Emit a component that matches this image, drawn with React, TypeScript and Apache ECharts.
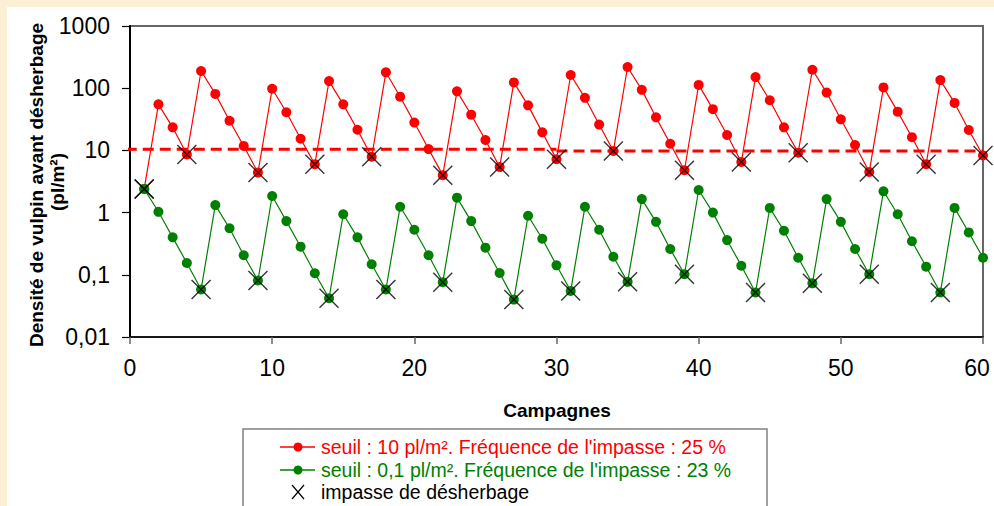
import React, { useEffect, useRef } from "react";
import * as echarts from "echarts";

// Campaign numbers are 1..60 (index + 1)
const redValues: number[] = [
  2.4, 55, 23.5, 8.6, 189, 81, 30, 11.8, 4.4, 98,
  41, 15.4, 6.0, 130, 55, 21.5, 7.9, 180, 73, 28,
  10.5, 4.0, 89, 37.5, 14.7, 5.4, 124, 53, 19.5, 7.2,
  163, 70, 26, 9.8, 219, 94, 34, 12.8, 4.8, 113,
  46, 17.7, 6.5, 151, 64, 23.5, 9.2, 198, 85, 31.6,
  12.2, 4.5, 103, 42, 16.3, 6.0, 135, 58, 21.3, 8.3,
];

const greenValues: number[] = [
  2.4, 1.03, 0.4, 0.155, 0.058, 1.32, 0.56, 0.206, 0.081, 1.85,
  0.73, 0.283, 0.106, 0.042, 0.94, 0.4, 0.148, 0.058, 1.24, 0.53,
  0.206, 0.076, 1.74, 0.73, 0.273, 0.107, 0.04, 0.89, 0.38, 0.142,
  0.055, 1.24, 0.53, 0.195, 0.077, 1.65, 0.71, 0.26, 0.102, 2.31,
  1.0, 0.362, 0.14, 0.052, 1.19, 0.51, 0.188, 0.073, 1.65, 0.71,
  0.26, 0.102, 2.2, 0.94, 0.346, 0.135, 0.052, 1.19, 0.48, 0.188,
];

// campaigns where weeding was skipped ("impasse")
const redImpasse: number[] = [1, 4, 9, 13, 17, 22, 26, 30, 34, 39, 43, 47, 52, 56, 60];
const greenImpasse: number[] = [1, 5, 9, 14, 18, 22, 27, 31, 35, 39, 44, 48, 52, 57];

// drawn threshold line (two segments as in the original figure)
const thresholdLeft: number[][] = [[-0.3, 10.4], [30, 10.4]];
const thresholdRight: number[][] = [[30, 9.8], [60, 9.8]];

const xTicks = { min: 0, max: 60, interval: 10 };
const yLabels: Record<string, string> = {
  "-2": "0,01", "-1": "0,1", "0": "1", "1": "10", "2": "100", "3": "1000",
};

const legendTexts = [
  "seuil : 10 pl/m². Fréquence de l'impasse : 25 %",
  "seuil : 0,1 pl/m². Fréquence de l'impasse : 23 %",
  "impasse de désherbage",
];

const FONT = '"Liberation Sans", Arial, sans-serif';

export default function App() {
  const ref = useRef<HTMLDivElement>(null);
  useEffect(() => {
    if (!ref.current) return;
    const chart = echarts.init(ref.current, null, { renderer: "svg" });
    const red = redValues.map((v, i) => [i + 1, v]);
    const green = greenValues.map((v, i) => [i + 1, v]);
    const impasse = [
      ...redImpasse.map((c) => [c, redValues[c - 1]]),
      ...greenImpasse.map((c) => [c, greenValues[c - 1]]),
    ];
    const cross = "path://M0,0L10,10M10,0L0,10";
    const lx1 = 280, lx2 = 315, lc = 298, tx = 321;
    const ly = [447, 470, 492];
    const legendFont = `19.5px ${FONT}`;
    chart.setOption({
      animation: false,
      backgroundColor: "#ffffff",
      textStyle: { fontFamily: FONT },
      grid: {
        left: 130, right: 11, top: 26, bottom: 169,
        outerBoundsMode: "none",
        containLabel: false,
        show: true, borderColor: "#666666", borderWidth: 2, backgroundColor: "#ffffff",
      },
      xAxis: {
        type: "value",
        min: xTicks.min, max: xTicks.max, interval: xTicks.interval,
        axisLine: { show: true, onZero: false, lineStyle: { color: "#000", width: 1.5 } },
        axisTick: { show: true, length: 7, lineStyle: { color: "#666", width: 1.5 } },
        axisLabel: {
          fontSize: 23, color: "#000", margin: 19, fontFamily: FONT, hideOverlap: false,
          formatter: (v: number) => (v === xTicks.max ? `{last|${v}}` : String(v)),
          rich: { last: { fontSize: 23, color: "#000", fontFamily: FONT, padding: [0, 12, 0, 0] } },
        },
        splitLine: { show: false },
      },
      yAxis: {
        type: "log",
        logBase: 10,
        min: 0.01, max: 1000,
        splitNumber: 5,
        axisLine: { show: true, lineStyle: { color: "#000", width: 2 } },
        axisTick: { show: true, length: 8, lineStyle: { color: "#000", width: 1.2 } },
        axisLabel: {
          fontSize: 23, color: "#000", margin: 20, fontFamily: FONT,
          formatter: (v: number) => yLabels[String(Math.round(Math.log10(v)))] ?? String(v),
        },
        splitLine: { show: false },
      },
      series: [
        {
          type: "line", data: thresholdLeft, symbol: "none", clip: false, silent: true,
          lineStyle: { color: "#ff0000", width: 3, type: [11, 6] }, z: 1,
        },
        {
          type: "line", data: thresholdRight, symbol: "none", clip: false, silent: true,
          lineStyle: { color: "#ff0000", width: 3, type: [11, 6] }, z: 1,
        },
        {
          name: legendTexts[0], type: "line", data: red, symbol: "circle", symbolSize: 10,
          lineStyle: { color: "#ff0000", width: 1.2 }, itemStyle: { color: "#ff0000" }, z: 2,
        },
        {
          name: legendTexts[1], type: "line", data: green, symbol: "circle", symbolSize: 10,
          lineStyle: { color: "#008000", width: 1.2 }, itemStyle: { color: "#008000" }, z: 3,
        },
        {
          name: legendTexts[2], type: "scatter", data: impasse, symbol: cross, symbolSize: 19,
          itemStyle: { color: "transparent", borderColor: "#000", borderWidth: 1.4 }, z: 4,
        },
      ],
      graphic: [
        { type: "rect", z: -10, shape: { x: 0, y: 0, width: 994, height: 7 }, style: { fill: "#FBEFD6" } },
        { type: "rect", z: -10, shape: { x: 0, y: 0, width: 7, height: 506 }, style: { fill: "#FBEFD6" } },
        {
          type: "text", x: 36, y: 185, rotation: Math.PI / 2,
          style: { text: "Densité de vulpin avant désherbage", align: "center", verticalAlign: "middle", font: `bold 19px ${FONT}`, fill: "#000" },
        },
        {
          type: "text", x: 57, y: 182, rotation: Math.PI / 2,
          style: { text: "(pl/m²)", align: "center", verticalAlign: "middle", font: `bold 19px ${FONT}`, fill: "#000" },
        },
        {
          type: "text", x: 557, y: 410,
          style: { text: "Campagnes", align: "center", verticalAlign: "middle", font: `bold 19px ${FONT}`, fill: "#000" },
        },
        { type: "rect", shape: { x: 243, y: 429, width: 524, height: 95 }, style: { fill: "#fff", stroke: "#808080", lineWidth: 1.5 } },
        { type: "line", shape: { x1: lx1, y1: ly[0], x2: lx2, y2: ly[0] }, style: { stroke: "#ff0000", lineWidth: 1.5 } },
        { type: "circle", shape: { cx: lc, cy: ly[0], r: 4.5 }, style: { fill: "#ff0000" } },
        { type: "text", x: tx, y: ly[0], style: { text: legendTexts[0], verticalAlign: "middle", font: legendFont, fill: "#ff0000" } },
        { type: "line", shape: { x1: lx1, y1: ly[1], x2: lx2, y2: ly[1] }, style: { stroke: "#008000", lineWidth: 1.5 } },
        { type: "circle", shape: { cx: lc, cy: ly[1], r: 4.5 }, style: { fill: "#008000" } },
        { type: "text", x: tx, y: ly[1], style: { text: legendTexts[1], verticalAlign: "middle", font: legendFont, fill: "#008000" } },
        { type: "line", shape: { x1: lc - 6, y1: ly[2] - 7, x2: lc + 6, y2: ly[2] + 7 }, style: { stroke: "#000", lineWidth: 1.2 } },
        { type: "line", shape: { x1: lc - 6, y1: ly[2] + 7, x2: lc + 6, y2: ly[2] - 7 }, style: { stroke: "#000", lineWidth: 1.2 } },
        { type: "text", x: tx, y: ly[2], style: { text: legendTexts[2], verticalAlign: "middle", font: legendFont, fill: "#000" } },
      ],
    });
    return () => chart.dispose();
  }, []);
  return (
    <div
      ref={ref}
      style={{ position: "fixed", left: 0, top: 0, width: 994, height: 506 }}
    />
  );
}
